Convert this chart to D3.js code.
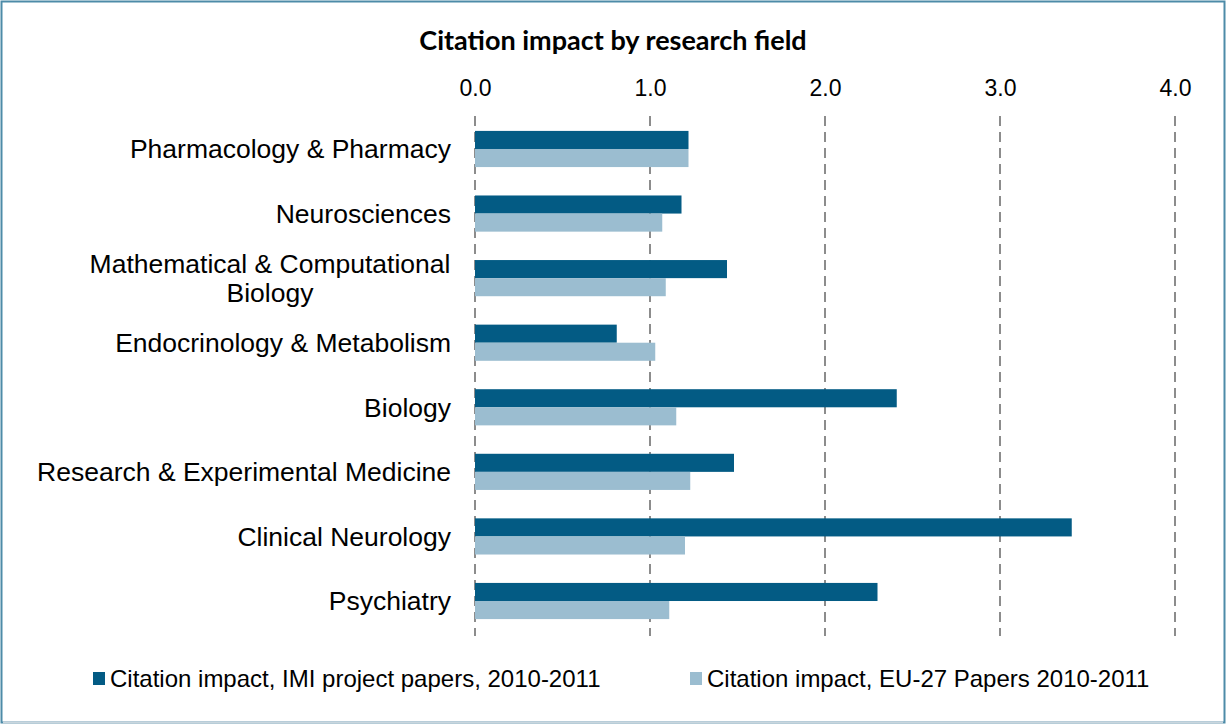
<!DOCTYPE html>
<html>
<head>
<meta charset="utf-8">
<script src="https://cdnjs.cloudflare.com/ajax/libs/d3/7.8.5/d3.min.js"></script>
<style>
  body { margin: 0; background: #fff; }
  svg { display: block; }
</style>
</head>
<body>
<svg width="1226" height="724"></svg>
<script>
// data
var fields = [
  "Pharmacology & Pharmacy",
  "Neurosciences",
  "Mathematical & Computational Biology",
  "Endocrinology & Metabolism",
  "Biology",
  "Research & Experimental Medicine",
  "Clinical Neurology",
  "Psychiatry"
];
var imiValues = [1.22, 1.18, 1.44, 0.81, 2.41, 1.48, 3.41, 2.30];
var euValues = [1.22, 1.07, 1.09, 1.03, 1.15, 1.23, 1.20, 1.11];
var seriesNames = [
  "Citation impact, IMI project papers, 2010-2011",
  "Citation impact, EU-27 Papers 2010-2011"
];
var tickValues = [0, 1, 2, 3, 4];

var colors = ["#035b84", "#9bbdd0"];
var font = "'Liberation Sans', Arial, sans-serif";

var svg = d3.select("svg"),
  width = +svg.attr("width"),
  height = +svg.attr("height");

// frame
svg.append("rect")
  .attr("x", 1.5).attr("y", 1.5)
  .attr("width", width - 3).attr("height", height - 3)
  .attr("fill", "#fff")
  .attr("stroke", "#4d8ba8")
  .attr("stroke-width", 2);
svg.append("line")
  .attr("x1", 3).attr("x2", width - 3)
  .attr("y1", height - 1.5).attr("y2", height - 1.5)
  .attr("stroke", "#c9d6de").attr("stroke-width", 2);

svg.append("text")
  .attr("x", 613).attr("y", 50)
  .attr("text-anchor", "middle")
  .style("font-family", "Lato, 'Open Sans', sans-serif")
  .style("font-weight", "bold")
  .style("font-size", "27px")
  .attr("fill", "#000")
  .text("Citation impact by research field");

var x = d3.scaleLinear().domain([0, 4]).range([475, 1175]);
var y = d3.scaleBand().domain(fields).range([116.7, 633.3]).paddingInner(0.44).paddingOuter(0.22);
var sub = d3.scaleBand().domain([0, 1]).range([0, y.bandwidth()]);

// dashed gridlines
svg.append("g")
  .selectAll("line")
  .data(tickValues)
  .enter()
  .append("line")
  .attr("x1", function (d) { return x(d); })
  .attr("x2", function (d) { return x(d); })
  .attr("y1", 116)
  .attr("y2", 636)
  .attr("stroke", "#8c8c8c")
  .attr("stroke-width", 2)
  .attr("stroke-dasharray", "10,6");

// top axis labels
var xAxis = svg.append("g")
  .attr("transform", "translate(0,96)")
  .call(d3.axisTop(x).tickValues(tickValues).tickFormat(d3.format(".1f")).tickSize(0).tickPadding(0));
xAxis.select(".domain").remove();
xAxis.selectAll("text")
  .style("font-family", font)
  .style("font-size", "23px")
  .attr("fill", "#000");

// bars
var rows = fields.map(function (f, i) {
  return { field: f, values: [imiValues[i], euValues[i]] };
});

var groups = svg.append("g")
  .selectAll("g")
  .data(rows)
  .enter()
  .append("g")
  .attr("transform", function (d) { return "translate(0," + y(d.field) + ")"; });

groups.selectAll("rect")
  .data(function (d) { return d.values; })
  .enter()
  .append("rect")
  .attr("x", x(0))
  .attr("y", function (d, i) { return sub(i); })
  .attr("width", function (d) { return x(d) - x(0); })
  .attr("height", sub.bandwidth())
  .attr("fill", function (d, i) { return colors[i]; });

// category labels, wrapped like the original
var wrapped = {
  "Mathematical & Computational Biology": ["Mathematical & Computational", "Biology"]
};
var labels = svg.append("g")
  .selectAll("text")
  .data(fields)
  .enter()
  .append("text")
  .attr("text-anchor", "end")
  .attr("x", 451)
  .attr("y", function (d) { return y(d) + y.bandwidth() / 2; })
  .style("font-family", font)
  .style("font-size", "26.5px")
  .attr("fill", "#000");

labels.each(function (d) {
  var t = d3.select(this);
  var lines = wrapped[d] || [d];
  if (lines.length === 1) {
    t.attr("dy", "0.35em").text(d);
  } else {
    t.attr("text-anchor", "middle").attr("x", 270);
    lines.forEach(function (l, k) {
      t.append("tspan")
        .attr("x", 270)
        .attr("dy", k === 0 ? "-0.21em" : "1.1em")
        .text(l);
    });
  }
});

// legend
var legendX = [93, 690];
var legend = svg.append("g")
  .selectAll("g")
  .data(seriesNames)
  .enter()
  .append("g")
  .attr("transform", function (d, i) { return "translate(" + legendX[i] + ",672)"; });

legend.append("rect")
  .attr("width", 12).attr("height", 13)
  .attr("fill", function (d, i) { return colors[i]; });

legend.append("text")
  .attr("x", 17)
  .attr("y", 7)
  .attr("dy", "0.35em")
  .style("font-family", font)
  .style("font-size", "24px")
  .attr("fill", "#000")
  .text(function (d) { return d; });
</script>
</body>
</html>
